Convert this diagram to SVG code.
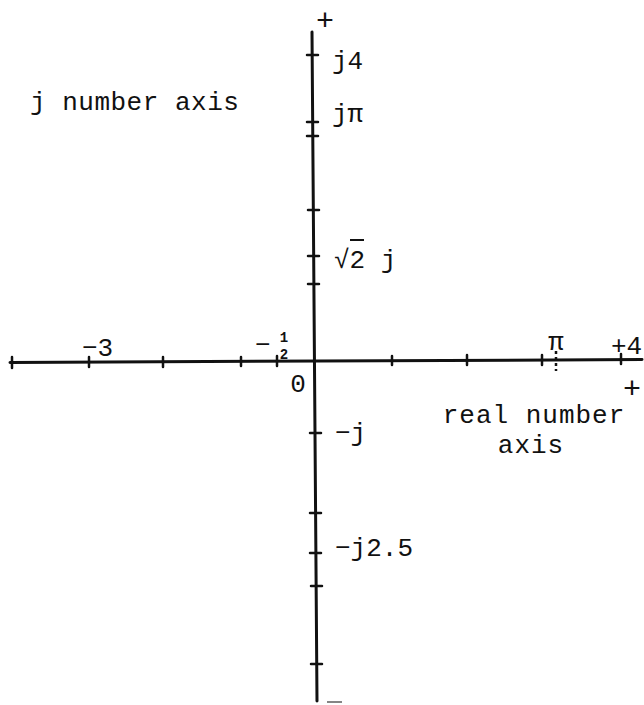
<svg xmlns="http://www.w3.org/2000/svg" width="644" height="705" viewBox="0 0 644 705">
<style>
.ax{stroke:#111;stroke-width:3;fill:none;stroke-linecap:round}
.tk{stroke:#111;stroke-width:2.5;stroke-linecap:round}
.t{font-family:"Liberation Mono","DejaVu Sans Mono",monospace;font-size:26px;fill:#111}
.p{font-family:"Liberation Mono","DejaVu Sans Mono",monospace;font-size:30px;fill:#111}
.s{font-family:"Liberation Mono","DejaVu Sans Mono",monospace;font-size:14px;font-weight:bold;fill:#111}
</style>
<rect width="644" height="705" fill="#fff"/>
<g id="connectors">
<line class="ax" x1="10" y1="362.5" x2="642" y2="359.5"/>
<line class="ax" x1="312" y1="32" x2="317" y2="701"/>
<line x1="327" y1="702" x2="342" y2="702" stroke="#333" stroke-width="1.2"/>
</g>
<g id="hticks">
<line class="tk" x1="12" y1="357" x2="12" y2="368"/>
<line class="tk" x1="89" y1="357" x2="89" y2="367"/>
<line class="tk" x1="163" y1="357" x2="163" y2="367"/>
<line class="tk" x1="241" y1="357" x2="241" y2="366"/>
<line class="tk" x1="277" y1="356" x2="277" y2="366"/>
<line class="tk" x1="392" y1="356" x2="392" y2="365"/>
<line class="tk" x1="467" y1="355" x2="467" y2="365"/>
<line class="tk" x1="542" y1="355" x2="542" y2="365"/>
<line x1="556" y1="351" x2="556" y2="371" stroke="#111" stroke-width="2.5" stroke-dasharray="3,3"/>
<line class="tk" x1="621" y1="354" x2="621" y2="364"/>
</g>
<g id="vticks">
<line class="tk" x1="307" y1="55" x2="318" y2="55"/>
<line class="tk" x1="307" y1="122" x2="318" y2="122"/>
<line class="tk" x1="307" y1="136" x2="318" y2="136"/>
<line class="tk" x1="308" y1="210" x2="319" y2="210"/>
<line class="tk" x1="308" y1="256" x2="319" y2="256"/>
<line class="tk" x1="308" y1="284" x2="319" y2="284"/>
<line class="tk" x1="310" y1="433" x2="321" y2="433"/>
<line class="tk" x1="310" y1="513" x2="321" y2="513"/>
<line class="tk" x1="310" y1="553" x2="321" y2="553"/>
<line class="tk" x1="311" y1="586" x2="322" y2="586"/>
<line class="tk" x1="311" y1="664" x2="322" y2="664"/>
</g>
<g id="label-top-plus"><text class="p" x="325" y="30" text-anchor="middle">+</text></g>
<g id="label-j4"><text class="t" x="332" y="69">j4</text></g>
<g id="label-jpi"><text class="t" x="332" y="122">jπ</text></g>
<g id="label-sqrt2j"><text class="t" x="334" y="268">√2 j</text><line x1="350" y1="240" x2="364" y2="240" stroke="#111" stroke-width="2"/></g>
<g id="label-jaxis"><text class="t" x="30" y="110" letter-spacing="0.5">j number axis</text></g>
<g id="label-m3"><text class="t" x="82" y="356">−3</text></g>
<g id="label-mhalf"><text class="t" x="255" y="353">−</text><text class="s" x="284" y="342" text-anchor="middle">1</text><text class="s" x="284" y="359" text-anchor="middle">2</text></g>
<g id="label-zero"><text class="t" x="298" y="392" text-anchor="middle">0</text></g>
<g id="label-pi"><text class="t" x="556" y="350" text-anchor="middle">π</text></g>
<g id="label-p4"><text class="t" x="611" y="354">+4</text></g>
<g id="label-right-plus"><text class="p" x="632" y="398" text-anchor="middle">+</text></g>
<g id="label-realaxis"><text class="t" x="534" y="423" text-anchor="middle" letter-spacing="1">real number</text><text class="t" x="531" y="453" text-anchor="middle" letter-spacing="1">axis</text></g>
<g id="label-mj"><text class="t" x="335" y="441">−j</text></g>
<g id="label-mj25"><text class="t" x="335" y="556">−j2.5</text></g>
</svg>
